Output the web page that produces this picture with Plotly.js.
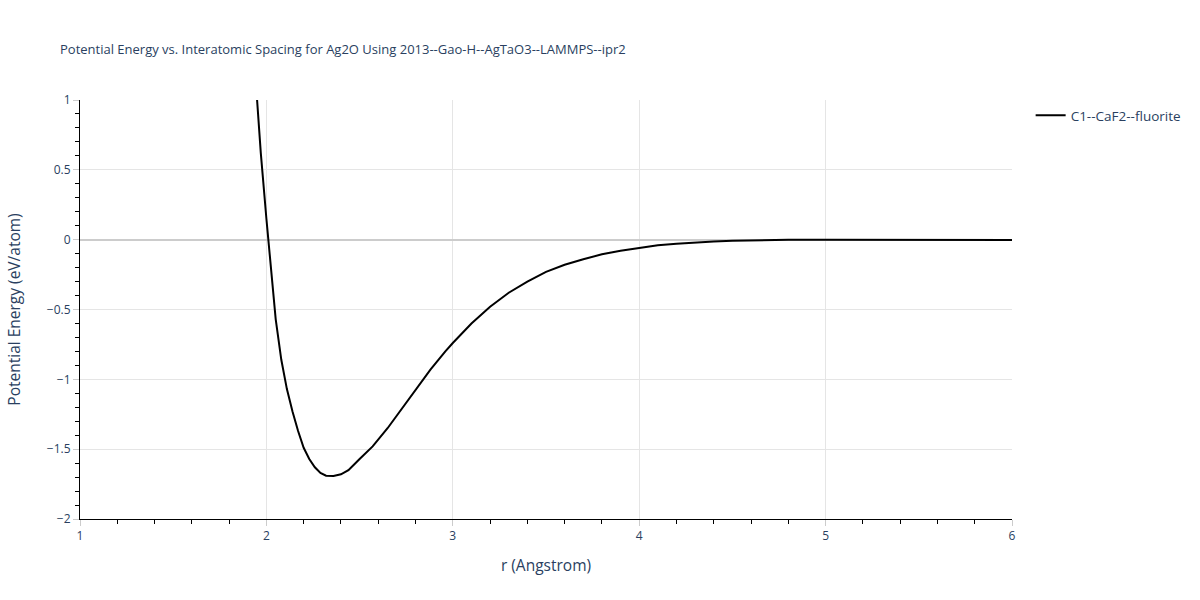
<!DOCTYPE html>
<html>
<head>
<meta charset="utf-8">
<script src="https://cdn.plot.ly/plotly-3.0.1.min.js"></script>
<style>html,body{margin:0;padding:0;background:#fff;}#chart{width:1200px;height:600px;}</style>
</head>
<body>
<div id="chart"></div>
<script>
const seriesName = "C1--CaF2--fluorite";
const rValues = [1.95, 1.97, 2.00, 2.02, 2.05, 2.08, 2.11, 2.14, 2.17, 2.20, 2.23, 2.26, 2.29, 2.32, 2.36, 2.40, 2.44, 2.50, 2.57, 2.65, 2.72, 2.80, 2.88, 2.96, 3.00, 3.10, 3.20, 3.30, 3.40, 3.50, 3.60, 3.70, 3.80, 3.90, 4.00, 4.10, 4.20, 4.30, 4.40, 4.50, 4.60, 4.80, 5.00, 5.50, 6.00];
const energyValues = [1.0, 0.62, 0.15, -0.16, -0.57, -0.86, -1.07, -1.23, -1.37, -1.49, -1.57, -1.63, -1.67, -1.69, -1.692, -1.68, -1.65, -1.57, -1.48, -1.35, -1.22, -1.07, -0.93, -0.80, -0.74, -0.60, -0.48, -0.38, -0.30, -0.23, -0.18, -0.14, -0.105, -0.08, -0.058, -0.04, -0.03, -0.02, -0.013, -0.008, -0.004, -0.001, 0.0, 0.0, -0.002];

const trace = {
  x: rValues, y: energyValues, type: 'scatter', mode: 'lines',
  name: seriesName, line: {color: 'black', width: 2}
};
const F = '"Open Sans", verdana, arial, sans-serif';
const axisCommon = {
  showline: true, linecolor: 'black', linewidth: 1,
  ticks: 'outside', ticklen: 6, tickcolor: '#ccc',
  gridcolor: '#e5e5e5', zeroline: true, zerolinecolor: '#ccc', zerolinewidth: 2,
  tickfont: {family: F, size: 12, color: '#2a3f5f'}
};
const layout = {
  width: 1200, height: 600,
  font: {family: F, color: '#2a3f5f'},
  title: {text: 'Potential Energy vs. Interatomic Spacing for Ag2O Using 2013--Gao-H--AgTaO3--LAMMPS--ipr2',
          x: 0.05, xanchor: 'left', y: 0.925, font: {family: F, size: 13}},
  margin: {l: 80, r: 188, t: 100, b: 81},
  xaxis: Object.assign({}, axisCommon, {range: [1, 6], dtick: 1,
    title: {text: 'r (Angstrom)', font: {family: F, size: 15.5}, standoff: 16},
    minor: {ticks: 'outside', ticklen: 4, tickcolor: 'black', dtick: 0.2, showgrid: false}}),
  yaxis: Object.assign({}, axisCommon, {range: [-2, 1], dtick: 0.5,
    title: {text: 'Potential Energy (eV/atom)', font: {family: F, size: 15.5}, standoff: 22},
    minor: {ticks: 'outside', ticklen: 4, tickcolor: 'black', dtick: 0.1, showgrid: false}}),
  showlegend: true,
  legend: {x: 1.02, y: 1, font: {family: F, size: 13.5}},
  plot_bgcolor: 'white', paper_bgcolor: 'white'
};
Plotly.newPlot('chart', [trace], layout, {displayModeBar: false});
</script>
</body>
</html>
